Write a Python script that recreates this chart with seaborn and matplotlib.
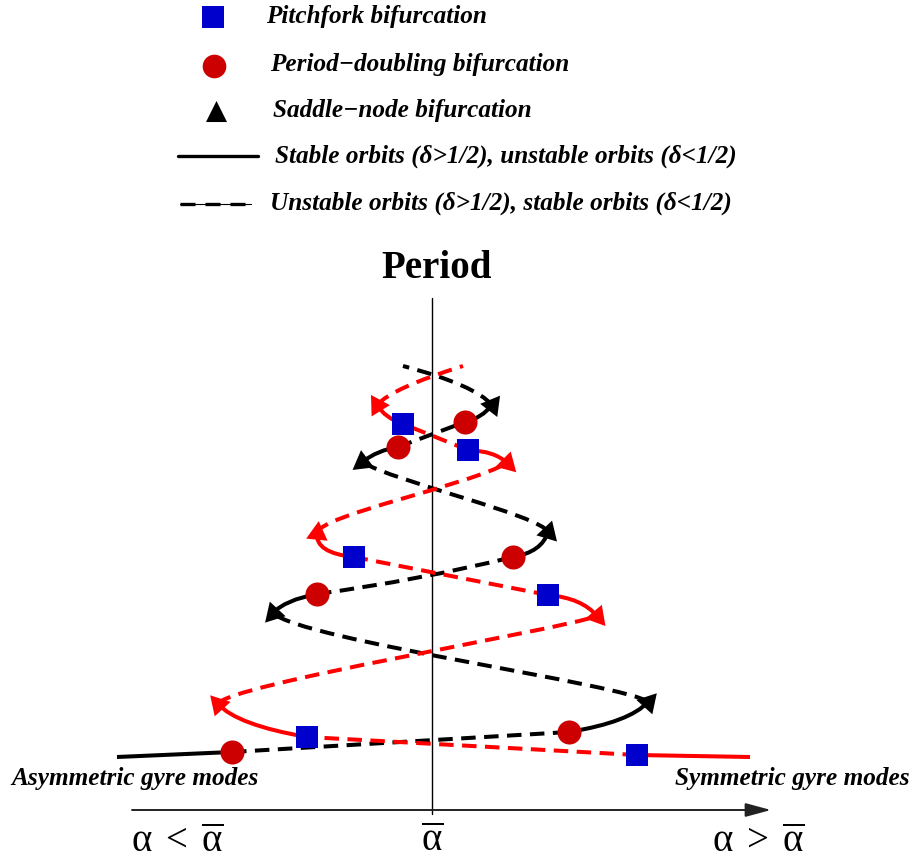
import math
import numpy as np
import pandas as pd
import matplotlib
matplotlib.use("Agg")
import matplotlib.pyplot as plt
from matplotlib.path import Path
from matplotlib.patches import PathPatch
import seaborn as sns

# ---------------- data (pixel-space schematic coordinates) ----------------
# each curve: 2 points = straight, 3 = quadratic Bezier, 4 = cubic Bezier
black_solid = [
    [(117, 757), (232, 752)],
    [(569, 732), (630, 722), (648, 702)],
    [(317, 594), (285, 600), (273, 613)],
    [(513, 557), (542, 552), (548, 532)],
    [(398, 447), (378, 450), (362, 462)],
    [(465, 422), (482, 418), (492, 405)],
]
black_dashed = [
    [(232, 752), (569, 732)],
    [(648, 702), (630, 685), (300, 640), (273, 613)],
    [(317, 594), (420, 580), (513, 557)],
    [(548, 532), (540, 515), (395, 482), (362, 462)],
    [(398, 447), (465, 422)],
    [(492, 405), (475, 385), (403, 366)],
]
red_solid = [
    [(750, 757), (637, 755)],
    [(307, 737), (237, 725), (218, 704)],
    [(548, 595), (582, 598), (597, 616)],
    [(354, 557), (315, 553), (317, 533)],
    [(468, 450), (495, 451), (507, 463)],
    [(403, 424), (385, 418), (377, 405)],
]
red_dashed = [
    [(637, 755), (307, 737)],
    [(218, 704), (225, 685), (560, 630), (597, 616)],
    [(548, 595), (354, 557)],
    [(317, 533), (320, 515), (470, 485), (507, 463)],
    [(468, 450), (403, 424)],
    [(377, 405), (392, 388), (463, 366)],
]

pitchfork_x = [307, 637, 548, 354, 403, 468]
pitchfork_y = [737, 755, 595, 557, 424, 450]
period_doubling_x = [232, 569, 317, 513, 398, 465]
period_doubling_y = [752, 732, 594, 557, 447, 422]

legend_labels = [
    "Pitchfork bifurcation",
    "Period\u2212doubling bifurcation",
    "Saddle\u2212node bifurcation",
    "Stable orbits (\u03b4>1/2), unstable orbits (\u03b4<1/2)",
    "Unstable orbits (\u03b4>1/2), stable orbits (\u03b4<1/2)",
]
title = "Period"
left_label = "Asymmetric gyre modes"
right_label = "Symmetric gyre modes"
x_tick_labels = [r"$\alpha\,<\,\overline{\alpha}$", r"$\overline{\alpha}$", r"$\alpha\,>\,\overline{\alpha}$"]

# ---------------- style ----------------
sns.set_theme(style="white")
plt.rcParams["font.family"] = ["Liberation Serif", "DejaVu Serif"]
plt.rcParams["text.color"] = "black"
plt.rcParams["mathtext.fontset"] = "custom"
plt.rcParams["mathtext.rm"] = "DejaVu Sans"
plt.rcParams["mathtext.it"] = "DejaVu Sans"
plt.rcParams["mathtext.default"] = "regular"

BLUE = "#0000CC"
DARKRED = "#CC0000"
RED = "#FF0000"
BLACK = "#000000"
LW = 2.9
DASH = (0, (3.6, 2.1))

fig = plt.figure(figsize=(9.15, 8.66), dpi=100)
ax = fig.add_axes([0, 0, 1, 1])
ax.set_xlim(0, 915)
ax.set_ylim(866, 0)
ax.axis("off")


def draw_curve(pts, color, ls):
    n = len(pts)
    if n == 2:
        codes = [Path.MOVETO, Path.LINETO]
    elif n == 3:
        codes = [Path.MOVETO, Path.CURVE3, Path.CURVE3]
    else:
        codes = [Path.MOVETO, Path.CURVE4, Path.CURVE4, Path.CURVE4]
    patch = PathPatch(Path(pts, codes), facecolor="none", edgecolor=color,
                      lw=LW, linestyle=ls, capstyle="butt", zorder=2)
    ax.add_patch(patch)


def end_angle(pts):
    (x0, y0), (x1, y1) = pts[-2], pts[-1]
    dx, dy = x1 - x0, y1 - y0
    return math.degrees(math.atan2(-dx, -dy))


# axes lines
ax.plot([432, 432], [298, 814], color="black", lw=1.0, zorder=1)
ax.annotate("", xy=(771, 810), xytext=(132, 810),
            arrowprops=dict(arrowstyle="-|>,head_length=1.3,head_width=0.35",
                            color="#222222", lw=1.4, shrinkA=0, shrinkB=0), zorder=1)

for seg in black_dashed:
    draw_curve(seg, BLACK, DASH)
for seg in red_dashed:
    draw_curve(seg, RED, DASH)
for seg in black_solid:
    draw_curve(seg, BLACK, "-")
for seg in red_solid:
    draw_curve(seg, RED, "-")

# saddle-node arrowheads at the end of each curved solid segment
for segs, col in ((black_solid, BLACK), (red_solid, RED)):
    for seg in segs:
        if len(seg) < 3:
            continue
        sns.scatterplot(x=[seg[-1][0]], y=[seg[-1][1]], marker=(3, 0, end_angle(seg)),
                        s=320, color=col, linewidth=0, ax=ax, zorder=4, legend=False)

sns.scatterplot(data=pd.DataFrame({"x": pitchfork_x, "y": pitchfork_y}), x="x", y="y",
                marker="s", s=260, color=BLUE, linewidth=0, ax=ax, zorder=5, legend=False)
sns.scatterplot(data=pd.DataFrame({"x": period_doubling_x, "y": period_doubling_y}), x="x", y="y",
                marker="o", s=300, color=DARKRED, linewidth=0, ax=ax, zorder=5, legend=False)
ax.set_xlabel("")
ax.set_ylabel("")

# ---------------- legend (drawn manually, as in the original) ----------------
lfont = dict(fontsize=18.2, fontweight="bold", fontstyle="italic", va="center", ha="left",
             color="black")
ax.scatter([213], [17], marker="s", s=270, color=BLUE, linewidth=0)
ax.text(266, 16, legend_labels[0], **lfont)
ax.scatter([214], [66], marker="o", s=290, color=DARKRED, linewidth=0)
ax.text(270, 65, legend_labels[1], **lfont)
ax.scatter([216], [111], marker="^", s=230, color=BLACK, linewidth=0)
ax.text(273, 110, legend_labels[2], **lfont)
ax.plot([178, 258], [156, 156], color=BLACK, lw=2.4)
ax.text(275, 156, legend_labels[3], **lfont)
ax.plot([180, 251], [204, 204], color=BLACK, lw=0.8)
ax.plot([180, 251], [204, 204], color=BLACK, lw=2.4, linestyle=(0, (4.5, 3)))
ax.text(270, 203, legend_labels[4], **lfont)

ax.text(437, 268, title, fontsize=28, fontweight="bold", ha="center", va="center", color="black")
ax.text(11, 778, left_label, fontsize=18.2, fontweight="bold", fontstyle="italic",
        ha="left", va="center", color="black")
ax.text(910, 778, right_label, fontsize=18.2, fontweight="bold", fontstyle="italic",
        ha="right", va="center", color="black")

for xpos, lab in zip([177, 432, 758], x_tick_labels):
    ax.text(xpos, 842, lab, fontsize=28, ha="center", va="center", color="black")

fig.savefig("out.png", dpi=100)
